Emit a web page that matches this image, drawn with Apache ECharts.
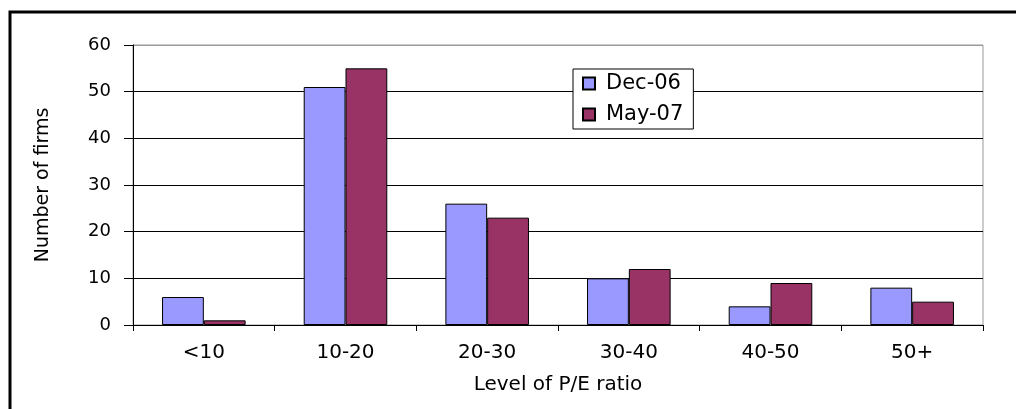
<!DOCTYPE html>
<html>
<head>
<meta charset="utf-8">
<script src="https://cdn.jsdelivr.net/npm/echarts@6/dist/echarts.min.js"></script>
<style>
  html, body { margin: 0; padding: 0; background: #fff; }
  #peChart { width: 1016px; height: 409px; }
</style>
</head>
<body>
<div id="peChart"></div>
<script>
var categories = ['<10', '10-20', '20-30', '30-40', '40-50', '50+'];
var dec06 = [6, 51, 26, 10, 4, 8];
var may07 = [1, 55, 23, 12, 9, 5];
var yTicks = [0, 10, 20, 30, 40, 50, 60];

var peChart = echarts.init(document.getElementById('peChart'));

var font = 'DejaVu Sans';

var peOptions = {
  animation: false,
  textStyle: { fontFamily: font },
  grid: {
    left: 133, right: 33, top: 45, bottom: 84,
    show: true, borderColor: '#999', borderWidth: 1
  },
  // outer frame of the original figure
  graphic: [
    { type: 'rect', shape: { x: 10, y: 12, width: 1020, height: 420 },
      style: { fill: 'none', stroke: '#000', lineWidth: 3 } }
  ],
  legend: {
    orient: 'vertical',
    left: 573, top: 69,
    width: 120,
    backgroundColor: '#fff',
    borderColor: '#000', borderWidth: 1,
    padding: [4, 10, 4, 9],
    itemWidth: 12, itemHeight: 12,
    itemGap: 10,
    icon: 'rect',
    textStyle: { fontFamily: font, fontSize: 21, color: '#000', padding: [0, 0, 0, 6] },
    data: ['Dec-06', 'May-07']
  },
  xAxis: {
    type: 'category',
    data: categories,
    name: 'Level of P/E ratio',
    nameLocation: 'middle',
    nameGap: 50,
    nameTextStyle: { fontFamily: font, fontSize: 20, color: '#000' },
    axisLine: { lineStyle: { color: '#000', width: 1 } },
    axisTick: { show: true, length: 6, lineStyle: { color: '#000' } },
    axisLabel: { fontFamily: font, fontSize: 20, color: '#000', margin: 18 }
  },
  yAxis: {
    type: 'value',
    min: yTicks[0], max: yTicks[yTicks.length - 1], interval: 10,
    name: 'Number of firms',
    nameLocation: 'middle',
    nameGap: 80,
    nameTextStyle: { fontFamily: font, fontSize: 19, color: '#000' },
    axisLine: { show: true, lineStyle: { color: '#000', width: 1 } },
    axisTick: { show: true, length: 9, lineStyle: { color: '#000' } },
    axisLabel: { fontFamily: font, fontSize: 18, color: '#000', margin: 22 },
    splitLine: { show: true, lineStyle: { color: ['#000', '#000', '#000', '#000', '#000', '#000', '#999'], width: 1 } }
  },
  series: [
    {
      name: 'Dec-06',
      type: 'bar',
      data: dec06,
      barGap: '0%',
      barCategoryGap: '41%',
      itemStyle: { color: '#9999FF', borderColor: '#000', borderWidth: 1 }
    },
    {
      name: 'May-07',
      type: 'bar',
      data: may07,
      itemStyle: { color: '#993366', borderColor: '#000', borderWidth: 1 }
    }
  ]
};

peChart.setOption(peOptions);
</script>
</body>
</html>
